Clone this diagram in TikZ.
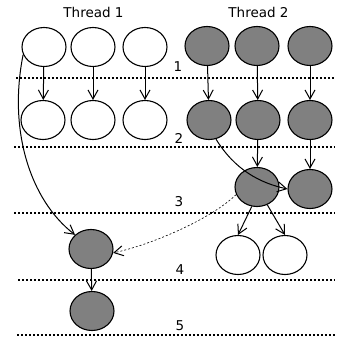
\documentclass[tikz,border=0pt]{standalone}
\usepackage{fontspec}
\setmainfont{DejaVu Sans}
\usetikzlibrary{shapes.geometric,arrows.meta}
\begin{document}
\begin{tikzpicture}[x=1pt,y=-1pt,
  task/.style={ellipse,draw=black,line width=1.1pt,minimum width=44pt,minimum height=39pt,inner sep=0pt},
  done/.style={task,fill=white},
  busy/.style={task,fill=black!50},
  dep/.style={line width=1pt,-{Straight Barb[length=9pt,width=10pt,line width=1pt]}},
  wait/.style={dep,line width=0.6pt,dash pattern=on 2pt off 2pt},
  level/.style={line width=2pt,dash pattern=on 2pt off 2pt},
  lbl/.style={font=\fontsize{13.5pt}{15pt}\selectfont,inner sep=0pt}]
\useasboundingbox (0,0) rectangle (337,341);

% thread headers
\node[lbl] (h1) at (93.5,12.5) {Thread 1};
\node[lbl] (h2) at (258.5,12.5) {Thread 2};

% level separators
\coordinate (l1a) at (16,77.5);  \coordinate (l1b) at (335,77.5);
\coordinate (l2a) at (14,147);   \coordinate (l2b) at (335,147);
\coordinate (l3a) at (14,213);   \coordinate (l3b) at (335,213);
\coordinate (l4a) at (18,280);   \coordinate (l4b) at (335,280);
\coordinate (l5a) at (17,335);   \coordinate (l5b) at (335,335);
\foreach \i in {1,...,5} \draw[level] (l\i a) -- (l\i b);

\node[lbl] (n1) at (178,67) {1};
\node[lbl] (n2) at (179,138) {2};
\node[lbl] (n3) at (179,202) {3};
\node[lbl] (n4) at (180,270) {4};
\node[lbl] (n5) at (180,326) {5};

% thread 1
\node[done] (a1) at (44,47) {};
\node[done] (a2) at (93,47) {};
\node[done] (a3) at (145,47) {};
\node[done] (b1) at (43,120) {};
\node[done] (b2) at (93,120) {};
\node[done] (b3) at (145,120) {};
\node[busy] (c1) at (91,249) {};
\node[busy] (d1) at (92,311) {};

% thread 2
\node[busy] (a4) at (207,46) {};
\node[busy] (a5) at (257,46) {};
\node[busy] (a6) at (310,46) {};
\node[busy] (b4) at (209,120) {};
\node[busy] (b5) at (258,120) {};
\node[busy] (b6) at (310,120) {};
\node[busy] (c4) at (257,187) {};
\node[busy] (c5) at (310,189) {};
\node[done] (e1) at (238,255) {};
\node[done] (e2) at (285,255) {};

% dependencies
\draw[dep] (a1) -- (b1);
\draw[dep] (a2) -- (b2);
\draw[dep] (a3) -- (b3);
\draw[dep] (a4) -- (b4);
\draw[dep] (a5) -- (b5);
\draw[dep] (a6) -- (b6);
\draw[dep] (b5) -- (c4);
\draw[dep] (b6) -- (c5);
\draw[dep] (c4.-105) -- (e1.north);
\draw[dep] (c4.-60) -- (e2.north);
\draw[dep] (c1) -- (d1);
\draw[dep] (b4.-70) .. controls (235,170) and (260,183) .. (c5.west);
\draw[dep] (a1.200) .. controls (8,130) and (30,200) .. (c1.north west);
\draw[wait] (c4.200) .. controls (210,220) and (150,245) .. (c1.-10);
\end{tikzpicture}
\end{document}
